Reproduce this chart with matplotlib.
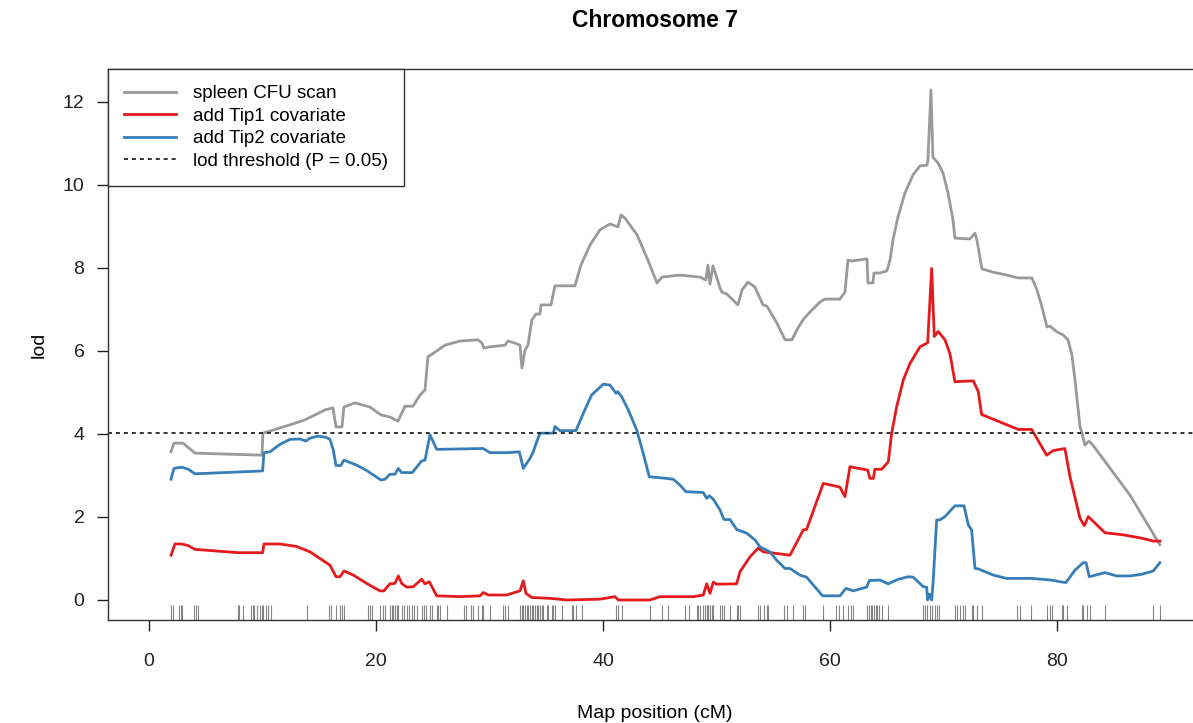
import numpy as np
import matplotlib
matplotlib.use("Agg")
import matplotlib.pyplot as plt

###
### Data (map position in cM, lod score)
###
gray_x = [1.94, 2.20, 3.00, 4.05, 9.96, 10.04, 12.42, 13.74, 15.51, 16.21,
          16.48, 17.00, 17.18, 18.15, 19.47, 20.44, 21.23, 21.94, 22.56, 23.26,
          23.88, 24.32, 24.58, 25.46, 26.08, 27.40, 28.99, 29.34, 29.52, 30.04,
          31.37, 31.63, 32.25, 32.69, 32.86, 33.13, 33.39, 33.74, 34.10, 34.45,
          34.54, 35.42, 35.77, 37.53, 38.06, 38.85, 39.74, 40.62, 41.32, 41.59,
          41.94, 43.00, 43.96, 44.76, 45.20, 46.78, 48.55, 49.07, 49.25, 49.43,
          49.69, 49.96, 50.31, 50.48, 50.93, 51.89, 52.25, 52.78, 53.39, 54.10,
          54.45, 55.33, 56.04, 56.65, 57.09, 57.62, 58.24, 59.12, 59.56, 60.88,
          61.32, 61.59, 61.94, 63.26, 63.35, 63.79, 63.88, 64.41, 65.02, 65.29,
          65.55, 65.99, 66.61, 67.31, 67.93, 68.55, 68.63, 68.90, 69.07, 69.52,
          69.96, 70.40, 70.84, 71.01, 72.33, 72.78, 72.95, 73.39, 74.36, 75.59,
          76.56, 77.80, 78.24, 78.68, 79.12, 79.38, 80.00, 80.53, 80.97, 81.32,
          81.59, 82.03, 82.20, 82.47, 82.82, 83.17, 86.43, 89.07]
gray_y = [3.57, 3.78, 3.78, 3.54, 3.49, 4.02, 4.22, 4.34, 4.58, 4.63,
          4.17, 4.17, 4.65, 4.75, 4.65, 4.46, 4.41, 4.31, 4.67, 4.67,
          4.94, 5.06, 5.86, 6.02, 6.14, 6.24, 6.27, 6.19, 6.07, 6.10,
          6.14, 6.24, 6.19, 6.14, 5.59, 6.02, 6.14, 6.75, 6.89, 6.89,
          7.11, 7.11, 7.57, 7.57, 8.07, 8.55, 8.92, 9.06, 8.99, 9.28,
          9.20, 8.80, 8.19, 7.64, 7.78, 7.83, 7.78, 7.71, 8.07, 7.61,
          8.05, 7.83, 7.52, 7.42, 7.37, 7.11, 7.47, 7.66, 7.54, 7.11,
          7.08, 6.67, 6.27, 6.27, 6.51, 6.75, 6.94, 7.18, 7.25, 7.25,
          7.42, 8.19, 8.17, 8.22, 7.64, 7.64, 7.88, 7.88, 7.93, 8.19,
          8.67, 9.23, 9.81, 10.24, 10.46, 10.48, 10.60, 12.29, 10.67, 10.53,
          10.29, 9.81, 9.16, 8.72, 8.70, 8.84, 8.67, 7.98, 7.90, 7.83,
          7.76, 7.76, 7.47, 7.06, 6.58, 6.60, 6.46, 6.39, 6.27, 5.90,
          5.30, 4.18, 4.02, 3.73, 3.83, 3.73, 2.53, 1.33]

red_x = [1.94, 2.29, 2.88, 3.47, 4.05, 7.87, 10.01, 10.13, 11.54, 13.01,
         14.19, 15.07, 15.95, 16.48, 16.83, 17.18, 18.00, 19.18, 20.35, 20.70,
         21.23, 21.67, 21.97, 22.26, 22.70, 23.29, 24.02, 24.32, 24.70, 25.35,
         27.40, 29.16, 29.46, 29.90, 31.51, 32.69, 32.98, 33.22, 33.72, 35.33,
         36.80, 39.74, 41.06, 41.35, 44.14, 45.02, 47.96, 48.84, 49.14, 49.43,
         49.72, 50.02, 51.78, 52.07, 52.95, 53.68, 54.13, 56.48, 57.65, 57.94,
         59.41, 60.88, 61.32, 61.76, 63.32, 63.52, 63.82, 63.96, 64.55, 65.14,
         65.44, 65.88, 66.46, 67.05, 67.93, 68.61, 68.96, 69.19, 69.54, 70.13,
         70.57, 71.01, 72.63, 73.07, 73.36, 76.59, 77.77, 79.09, 79.67, 80.70,
         81.15, 82.03, 82.41, 82.76, 84.23, 85.84, 87.46, 88.49, 89.07]
red_y = [1.08, 1.35, 1.35, 1.31, 1.22, 1.14, 1.14, 1.35, 1.35, 1.29,
         1.16, 1.00, 0.84, 0.56, 0.56, 0.70, 0.60, 0.40, 0.22, 0.22,
         0.39, 0.40, 0.58, 0.40, 0.31, 0.32, 0.50, 0.39, 0.44, 0.10,
         0.08, 0.10, 0.18, 0.12, 0.12, 0.22, 0.46, 0.16, 0.06, 0.04,
         0.00, 0.02, 0.08, 0.00, 0.00, 0.08, 0.08, 0.12, 0.39, 0.16,
         0.43, 0.38, 0.39, 0.68, 1.04, 1.25, 1.16, 1.08, 1.69, 1.70,
         2.81, 2.72, 2.49, 3.21, 3.13, 2.93, 2.93, 3.15, 3.15, 3.33,
         4.02, 4.66, 5.30, 5.70, 6.10, 6.20, 7.99, 6.35, 6.47, 6.27,
         5.94, 5.26, 5.28, 5.02, 4.47, 4.11, 4.11, 3.49, 3.60, 3.65,
         2.97, 1.97, 1.79, 2.01, 1.62, 1.57, 1.49, 1.42, 1.42]

blue_x = [1.94, 2.20, 2.88, 3.47, 4.05, 10.01, 10.13, 10.66, 11.54, 12.42,
          13.30, 13.83, 14.19, 14.92, 15.59, 15.95, 16.24, 16.48, 16.89, 17.18,
          18.30, 19.18, 20.06, 20.44, 20.79, 21.23, 21.67, 21.97, 22.26, 23.20,
          24.02, 24.32, 24.76, 25.35, 27.40, 29.46, 30.04, 31.51, 32.63, 32.98,
          33.57, 33.86, 34.16, 34.45, 35.62, 35.77, 36.21, 37.62, 38.27, 39.00,
          40.03, 40.62, 41.15, 41.29, 41.65, 42.23, 42.97, 43.55, 44.08, 45.61,
          46.19, 46.78, 47.31, 48.84, 49.14, 49.37, 49.72, 50.31, 50.66, 51.19,
          51.78, 52.66, 53.39, 53.83, 54.71, 55.30, 56.04, 56.48, 57.36, 57.94,
          59.35, 60.88, 61.41, 62.06, 63.23, 63.47, 64.41, 65.14, 66.02, 66.90,
          67.34, 68.22, 68.52, 68.61, 68.75, 68.96, 69.10, 69.40, 69.69, 70.13,
          71.01, 71.81, 72.19, 72.48, 72.78, 73.07, 74.39, 75.57, 77.77, 79.53,
          80.26, 80.79, 81.59, 82.32, 82.56, 82.85, 84.23, 85.26, 86.43, 87.46,
          88.49, 89.07]
blue_y = [2.91, 3.17, 3.20, 3.15, 3.04, 3.11, 3.55, 3.57, 3.75, 3.87,
          3.88, 3.83, 3.90, 3.95, 3.92, 3.87, 3.61, 3.24, 3.24, 3.37,
          3.25, 3.12, 2.96, 2.89, 2.91, 3.03, 3.03, 3.17, 3.07, 3.07,
          3.35, 3.37, 3.98, 3.63, 3.64, 3.65, 3.55, 3.55, 3.57, 3.17,
          3.41, 3.57, 3.81, 4.02, 4.02, 4.18, 4.08, 4.08, 4.50, 4.94,
          5.20, 5.18, 4.98, 5.02, 4.90, 4.58, 4.10, 3.53, 2.97, 2.93,
          2.91, 2.77, 2.61, 2.59, 2.45, 2.51, 2.43, 2.17, 1.94, 1.94,
          1.70, 1.61, 1.45, 1.28, 1.16, 0.96, 0.76, 0.76, 0.60, 0.55,
          0.10, 0.10, 0.28, 0.22, 0.31, 0.47, 0.48, 0.39, 0.50, 0.56,
          0.55, 0.32, 0.31, 0.00, 0.14, 0.00, 0.48, 1.93, 1.93, 2.01,
          2.27, 2.27, 1.81, 1.69, 0.76, 0.75, 0.60, 0.52, 0.52, 0.48,
          0.44, 0.42, 0.72, 0.90, 0.90, 0.56, 0.66, 0.58, 0.58, 0.62,
          0.70, 0.90]

# marker positions (rug)
markers = [1.94, 2.08, 2.67, 2.79, 2.94, 3.99, 4.14, 4.35, 7.81, 7.96, 8.31,
           8.99, 9.13, 9.28, 9.49, 9.78, 9.93, 10.07, 10.31, 10.51, 10.72,
           13.89, 15.89, 16.04, 16.48, 16.83, 16.98, 17.18, 19.32, 19.47,
           19.62, 20.35, 20.65, 20.79, 21.23, 21.38, 21.53, 21.67, 21.82,
           21.97, 22.26, 22.47, 22.70, 22.94, 23.14, 23.35, 23.59, 24.02,
           24.23, 24.41, 24.76, 24.90, 25.35, 25.49, 25.64, 26.23, 27.78,
           27.93, 28.37, 28.57, 29.02, 29.31, 29.46, 30.04, 31.16, 31.37,
           31.66, 32.69, 32.84, 32.98, 33.13, 33.28, 33.42, 33.57, 33.72,
           33.86, 34.01, 34.16, 34.30, 34.45, 34.60, 34.74, 35.04, 35.18,
           35.48, 35.62, 35.77, 36.36, 37.24, 37.38, 37.62, 38.12, 41.15,
           41.35, 41.65, 44.14, 45.17, 45.75, 47.22, 47.60, 48.25, 48.40,
           48.55, 48.78, 48.99, 49.14, 49.28, 49.43, 49.58, 49.72, 50.31,
           50.46, 50.69, 51.19, 51.78, 51.92, 52.07, 53.68, 53.83, 54.19,
           54.42, 54.57, 55.98, 56.19, 56.71, 57.59, 57.80, 59.41, 60.53,
           60.82, 61.12, 61.61, 61.82, 62.00, 63.29, 63.44, 63.58, 63.73,
           63.88, 64.03, 64.17, 64.34, 64.55, 65.14, 68.17, 68.37, 68.57,
           68.81, 69.01, 69.25, 69.45, 69.63, 71.01, 71.22, 71.45, 71.69,
           71.89, 72.48, 72.63, 72.92, 73.36, 76.45, 76.74, 77.71, 79.09,
           79.38, 79.53, 80.41, 80.56, 80.85, 82.18, 82.32, 82.61, 82.91,
           84.23, 88.43, 89.07]

threshold = 4.02
labels = ["spleen CFU scan", "add Tip1 covariate", "add Tip2 covariate",
          "lod threshold (P = 0.05)"]
xticks = [0, 20, 40, 60, 80]
yticks = [0, 2, 4, 6, 8, 10, 12]

###
### Style
###
plt.rcParams['font.family'] = ['Liberation Sans', 'DejaVu Sans']
plt.rcParams['font.size'] = 14

fig = plt.figure(figsize=(11.93, 7.23), dpi=100)
ax = fig.add_axes([108/1193, 103/723, 1094/1193, 551/723])

ax.plot(gray_x, gray_y, color='#9a9a9a', lw=2.0, label=labels[0])
ax.plot(red_x, red_y, color='#e41a1c', lw=2.0, label=labels[1])
ax.plot(blue_x, blue_y, color='#377eb8', lw=2.0, label=labels[2])
ax.axhline(threshold, color='#222222', lw=1.3, ls=(0, (2.2, 2.2)),
           label=labels[3])

# rug of marker positions
ax.vlines(markers, 0, 0.028, transform=ax.get_xaxis_transform(),
          color='#444444', lw=0.8, alpha=0.65)

ax.set_xlim(-3.61, 92.78)
ax.set_ylim(-0.482, 12.795)
ax.set_xticks(xticks)
ax.set_yticks(yticks)
ax.tick_params(direction='out', length=8, width=1, colors='#222222')
ax.tick_params(axis='x', pad=16)
ax.tick_params(axis='y', pad=9)
for s in ax.spines.values():
    s.set_color('#333333')
    s.set_linewidth(1.0)
ax.spines['right'].set_visible(False)

ax.set_xlabel("Map position (cM)", labelpad=25)
ax.set_ylabel("lod", labelpad=11)
ax.set_title("Chromosome 7", fontsize=16.5, fontweight='bold', pad=30)

leg = ax.legend(loc='upper left', borderaxespad=0, fancybox=False,
                edgecolor='#333333', framealpha=1, fontsize=13.5,
                handlelength=2.8, handletextpad=0.9, labelspacing=0.29,
                borderpad=0.85)
leg.get_frame().set_linewidth(1.0)

plt.savefig("out.png", dpi=100)
